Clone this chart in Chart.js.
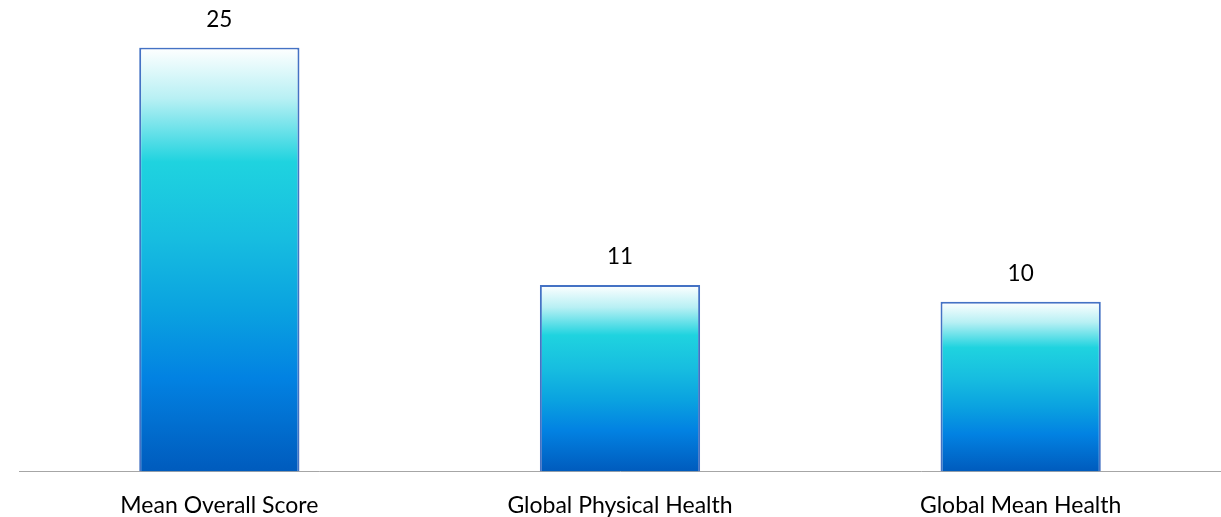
<!DOCTYPE html>
<html>
<head>
<meta charset="utf-8">
<script src="https://cdn.jsdelivr.net/npm/chart.js@4.4.1/dist/chart.umd.min.js"></script>
<style>
  html, body { margin: 0; padding: 0; background: #ffffff; }
  #wrap { width: 1221px; height: 517px; position: relative; }
</style>
</head>
<body>
<div id="wrap"><canvas id="c" width="1221" height="517"></canvas></div>
<script>
const categories = ["Mean Overall Score", "Global Physical Health", "Global Mean Health"];
const scores = [25, 11, 10];

const FONT = "Lato, Carlito, 'Open Sans', sans-serif";

function barGradient(context) {
  const chart = context.chart;
  const yScale = chart.scales.y;
  if (!yScale || context.raw === undefined) return '#0a9fe0';
  const top = yScale.getPixelForValue(context.raw);
  const bottom = yScale.getPixelForValue(0);
  if (!isFinite(top) || !isFinite(bottom) || top === bottom) return '#0a9fe0';
  const g = chart.ctx.createLinearGradient(0, top, 0, bottom);
  g.addColorStop(0.00, '#ffffff');
  g.addColorStop(0.12, '#b8f0f4');
  g.addColorStop(0.27, '#1fd3df');
  g.addColorStop(0.45, '#17bde0');
  g.addColorStop(0.62, '#0aa2e0');
  g.addColorStop(0.78, '#0282e2');
  g.addColorStop(1.00, '#005bbd');
  return g;
}

const valueLabels = {
  id: 'valueLabels',
  afterDatasetsDraw(chart) {
    const ctx = chart.ctx;
    const meta = chart.getDatasetMeta(0);
    ctx.save();
    ctx.fillStyle = '#000000';
    ctx.font = "22.5px " + FONT;
    ctx.textAlign = 'center';
    ctx.textBaseline = 'alphabetic';
    meta.data.forEach((bar, i) => {
      ctx.fillText(String(scores[i]), bar.x, bar.y - 21);
    });
    ctx.restore();
  }
};

new Chart(document.getElementById('c'), {
  type: 'bar',
  data: {
    labels: categories,
    datasets: [{
      data: scores,
      backgroundColor: barGradient,
      borderColor: '#4472c4',
      borderWidth: 2,
      borderSkipped: 'bottom',
      categoryPercentage: 1.0,
      barPercentage: 0.4
    }]
  },
  options: {
    responsive: false,
    animation: false,
    devicePixelRatio: 1,
    layout: { padding: { top: 47.5, left: 19, right: 0, bottom: -22 } },
    plugins: {
      legend: { display: false },
      tooltip: { enabled: false }
    },
    scales: {
      x: {
        grid: { display: false, drawTicks: false },
        border: { display: true, color: '#a6a6a6', width: 1 },
        ticks: {
          color: '#000000',
          font: { family: FONT, size: 23 },
          padding: 20,
          maxRotation: 0,
          autoSkip: false
        }
      },
      y: {
        display: false,
        min: 0,
        max: 25
      }
    }
  },
  plugins: [valueLabels]
});
</script>
</body>
</html>
